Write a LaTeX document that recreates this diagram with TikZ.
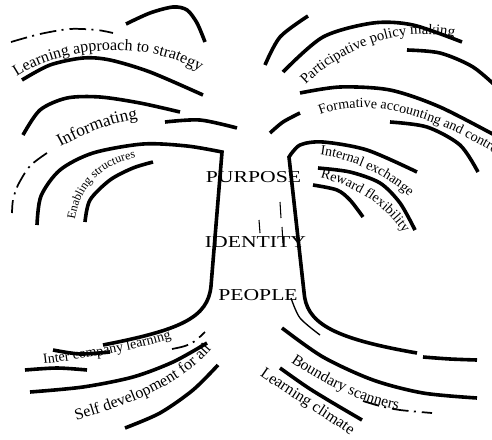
\documentclass[tikz,border=0pt]{standalone}
\usepackage{fontspec}
\setmainfont{Liberation Serif}
\usetikzlibrary{decorations.text}
\newcommand\myfs[1]{\fontsize{#1}{#1}\selectfont}
\begin{document}
\begin{tikzpicture}[x=0.75pt,y=-0.75pt,
  heavy/.style={line width=2.7pt},
  dashdot/.style={line width=1.3pt, dash pattern=on 12.5pt off 4pt on 1.5pt off 4.5pt},
  thinline/.style={line width=1pt},
  hair/.style={line width=0.8pt},
  word/.style={font=\myfs{12.5}, xscale=1.3, inner sep=0pt, anchor=base},
  ctext/.style n args={2}{decorate, decoration={text along path, text={|\myfs{#1}|#2}, text align=center}}
]
\useasboundingbox (0,0) rectangle (492,439);

% ---- top left ----
\draw[dashdot] plot[smooth] coordinates {(11,42) (40,34) (70,29) (97,30) (113,33)};
\draw[heavy] plot[smooth] coordinates {(126,24) (150,13) (173,7) (187,10) (197,23) (205,42)};
\draw[heavy] plot[smooth] coordinates {(22,80) (50,65) (83,58) (110,60) (150,72) (203,95)};
\draw[heavy] plot[smooth] coordinates {(23,135) (40,110) (67,98) (100,97) (140,103) (180,112)};
\draw[heavy] plot[smooth] coordinates {(165,122) (200,120) (237,128)};
\draw[dashdot] plot[smooth] coordinates {(47,153) (30,166) (18,185) (13,200) (12,213)};
\draw[heavy] plot[smooth] coordinates {(85,222) (90,200) (110,180) (133,168) (153,162)};
% left hull
\draw[heavy] plot[smooth] coordinates {(37,225) (41,196) (60,170) (93,153) (143,144) (187,146) (222,152)}
  -- (211,286) .. controls (208,318) and (180,330) .. (103,345);

% ---- top right ----
\draw[heavy] plot[smooth] coordinates {(265,65) (280,37) (308,16)};
\draw[heavy] plot[smooth] coordinates {(283,72) (323,37) (373,23) (413,25) (462,42)};
\draw[heavy] plot[smooth] coordinates {(407,50) (440,53) (473,67) (500,90)};
\draw[heavy] plot[smooth] coordinates {(300,93) (340,87) (390,90) (440,107) (500,138)};
\draw[heavy] plot[smooth] coordinates {(270,133) (283,122) (300,113)};
\draw[heavy] plot[smooth] coordinates {(390,122) (427,127) (460,145) (478,172)};
% right hull
\draw[heavy] plot[smooth] coordinates {(417,172) (367,150) (323,142) (300,145) (289,157)}
  -- (304,292) .. controls (306,322) and (330,338) .. (417,353);
\draw[heavy] plot[smooth] coordinates {(423,357) (450,359) (477,360)};
\draw[thinline] plot[smooth] coordinates {(291,298) (300,318) (320,335)};
\draw[heavy] plot[smooth] coordinates {(318,168) (350,172) (380,183) (400,203) (415,230)};
\draw[heavy] plot[smooth] coordinates {(313,185) (337,190) (350,200) (363,217)};

% centre dashes
\draw[hair] (259,220) -- (260,233);
\draw[hair] (280,202) -- (281,218);
\draw[hair] (282,227) -- (283,243);

% ---- bottom left ----
\draw[heavy] plot[smooth] coordinates {(53,350) (80,354) (110,352)};
\draw[heavy] plot[smooth] coordinates {(25,370) (57,368) (87,370)};
\draw[dashdot] plot[smooth] coordinates {(172,349) (185,346) (195,341) (205,332)};
\draw[heavy] plot[smooth] coordinates {(30,392) (83,387) (133,377) (173,362) (207,343)};
\draw[heavy] plot[smooth] coordinates {(125,428) (160,413) (193,390) (218,365)};

% ---- bottom right ----
\draw[heavy] plot[smooth] coordinates {(282,328) (323,357) (373,380) (423,393) (477,398)};
\draw[dashdot] plot[smooth] coordinates {(363,401) (380,406) (400,410) (432,413)};
\draw[heavy] plot[smooth] coordinates {(280,368) (307,387) (333,403) (362,420)};

% ---- curved labels ----
\path[ctext={12}{Learning approach to strategy}] (5,86) .. controls (45,48) and (150,32) .. (212,80);
\path[ctext={13}{Informating}] (48,154) .. controls (80,135) and (115,120) .. (152,117);
\path[ctext={9}{Enabling structures}] (74,234) .. controls (74,190) and (100,160) .. (150,156);
\path[ctext={11}{Participative policy making}] (298,93) .. controls (330,55) and (400,20) .. (465,40);
\path[ctext={10.5}{Formative accounting and control}] (313,118) .. controls (355,98) and (420,105) .. (505,160);
\path[ctext={10.5}{Internal exchange}] (308,154) .. controls (345,155) and (390,175) .. (418,205);
\path[ctext={10.5}{Reward flexibility}] (308,175) .. controls (350,182) and (390,205) .. (410,244);
\path[ctext={10.5}{Inter company learning}] (32,365) .. controls (80,360) and (130,352) .. (183,335);
\path[ctext={12}{Self development for all}] (68,423) .. controls (130,405) and (185,385) .. (217,342);
\path[ctext={11.6}{Boundary scanners}] (281,355) .. controls (315,380) and (360,405) .. (410,412);
\path[ctext={12}{Learning climate}] (252,370) .. controls (288,396) and (318,412) .. (358,441);

% ---- centre words ----
\node[word] (purpose) at (253.5,182) {PURPOSE};
\node[word] (identity) at (255.5,247) {IDENTITY};
\node[word] (people) at (258,300) {PEOPLE};
\end{tikzpicture}
\end{document}
